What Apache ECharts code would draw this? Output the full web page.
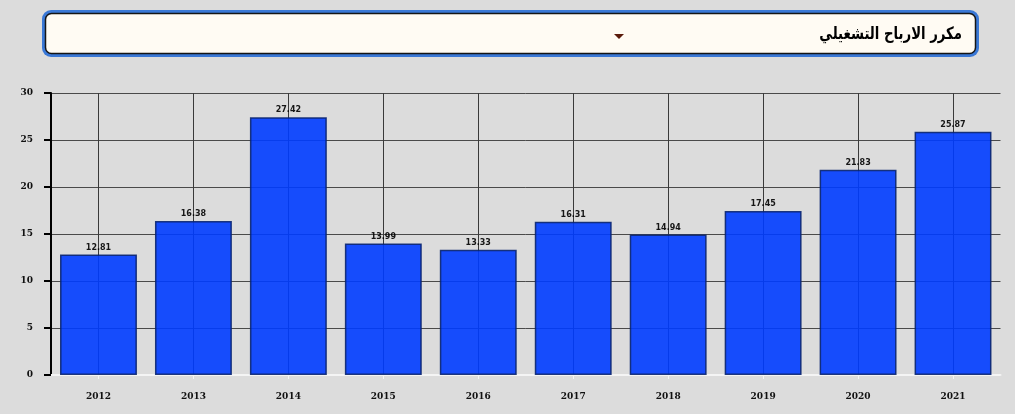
<!DOCTYPE html>
<html><head><meta charset="utf-8">
<script src="https://cdn.jsdelivr.net/npm/echarts@6/dist/echarts.min.js"></script>
<style>html,body{margin:0;padding:0;background:#dcdcdc}#c{width:1015px;height:414px}</style>
</head><body><div id="c"></div>
<script>
const categories = ['2012','2013','2014','2015','2016','2017','2018','2019','2020','2021'];
const values = [12.81,16.38,27.42,13.99,13.33,16.31,14.94,17.45,21.83,25.87];
const yTicks = [0,5,10,15,20,25,30];
const title = 'مكرر الارباح التشغيلي';

const chart = echarts.init(document.getElementById('c'), null, {renderer:'canvas'});
chart.setOption({
  backgroundColor:'#dcdcdc',
  animation:false,
  grid:{left:51, right:14.5, top:93, bottom:39, containLabel:false},
  graphic:[
    {type:'rect', shape:{x:42,y:10,width:937,height:47,r:9}, style:{fill:'#3a78d6'}},
    {type:'rect', shape:{x:45.5,y:13.5,width:930,height:40,r:6}, style:{fill:'#fffbf3', stroke:'#151515', lineWidth:1.5}},
    {type:'text', x:962, y:35, scaleX:0.78, style:{text:title, fill:'#000', font:'bold 17px "DejaVu Sans", sans-serif', align:'right', verticalAlign:'middle'}},
    {type:'polygon', shape:{points:[[614,34],[624,34],[619,39]]}, style:{fill:'#5a1a0a'}}
  ],
  xAxis:{
    type:'category', data:categories, boundaryGap:true,
    axisLine:{show:true, lineStyle:{color:'#f4f4f4', width:2}},
    axisTick:{show:true, alignWithLabel:true, length:4, lineStyle:{color:'#f4f4f4', width:1}},
    axisLabel:{color:'#111', fontWeight:'bold', fontSize:9, fontFamily:'DejaVu Serif, serif', margin:17},
    splitLine:{show:false}
  },
  yAxis:{
    type:'value', min:0, max:30, interval:5,
    axisLine:{show:true, lineStyle:{color:'#000', width:2}},
    axisTick:{show:true, length:7, lineStyle:{color:'#000', width:2}},
    axisLabel:{color:'#111', fontWeight:'bold', fontSize:9, fontFamily:'DejaVu Serif, serif', margin:18,
      formatter:v=> yTicks.includes(v)? String(v):''},
    splitLine:{show:true, lineStyle:{color:'#4a4a4a', width:1}}
  },
  series:[
  {
    type:'bar', data:[], z:0, silent:true,
    markLine:{
      z:0, silent:true, symbol:['none','none'], label:{show:false},
      lineStyle:{color:'#3a3a3a', type:'solid', width:1, opacity:1},
      data: categories.map(c=>[{coord:[c,0]},{coord:[c,30]}])
    }
  },
  {
    type:'bar', data:values, barCategoryGap:'19%', barGap:'-100%', z:3,
    itemStyle:{color:'#003cff', opacity:0.9, borderColor:'#0a2570', borderWidth:1.5},
    label:{show:true, position:'top', distance:3, color:'#000', fontWeight:'bold', fontSize:8, fontFamily:'DejaVu Sans, sans-serif', formatter:p=>p.value.toFixed(2)}
  }]
});
</script></body></html>
